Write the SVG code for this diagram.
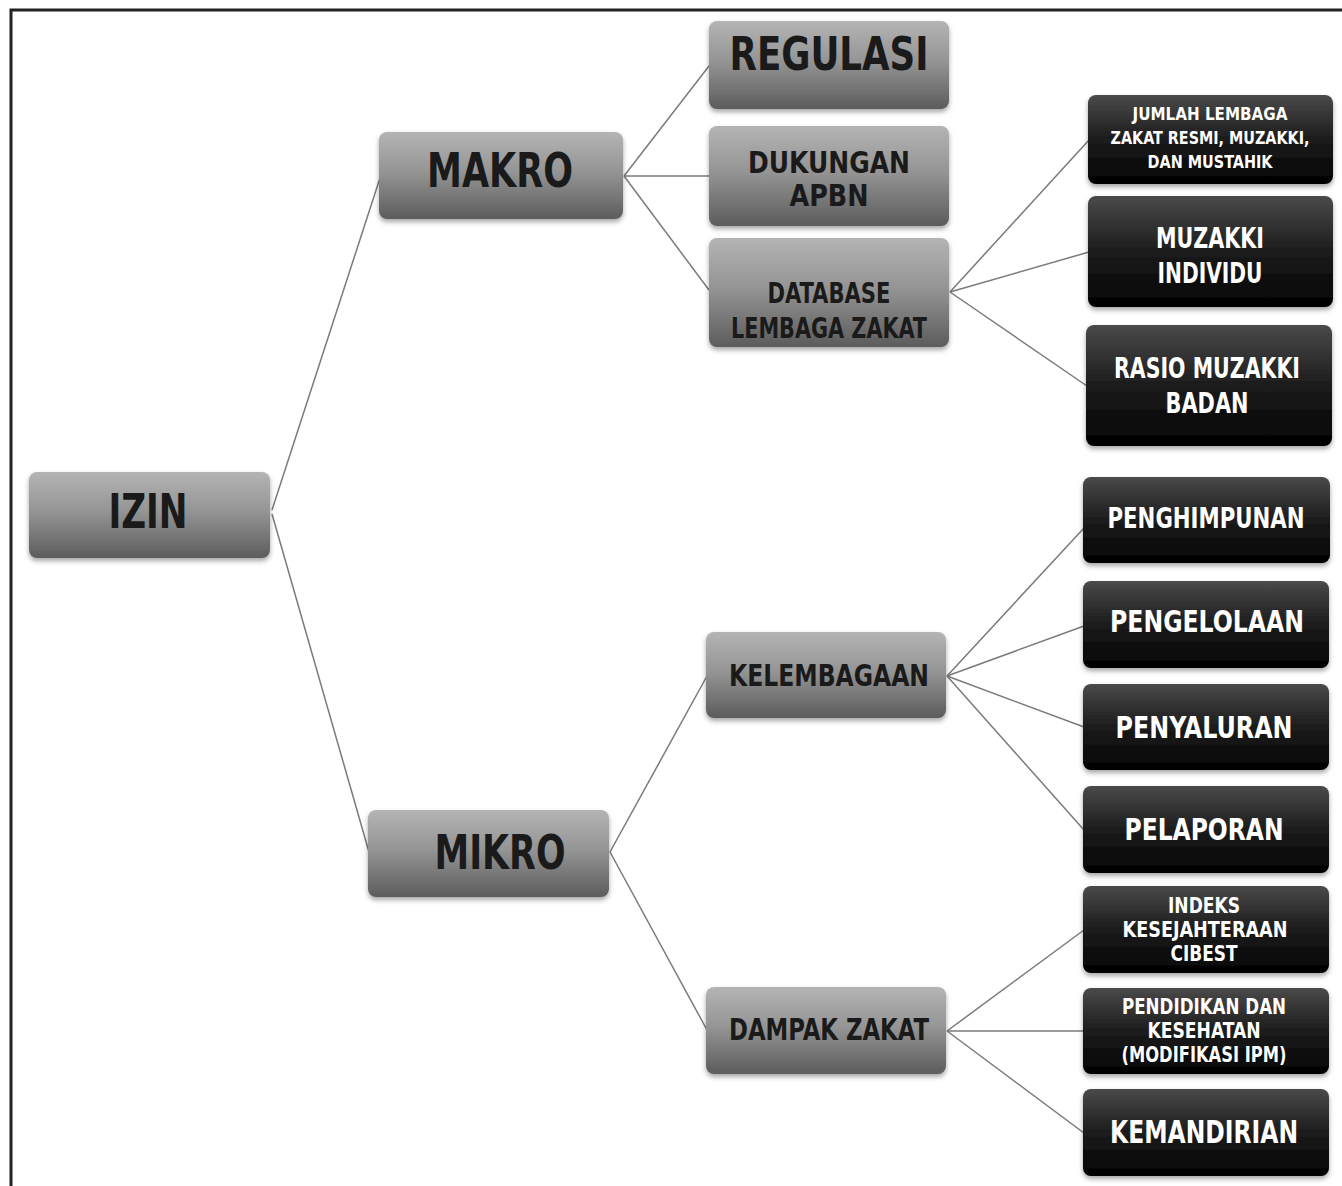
<svg xmlns="http://www.w3.org/2000/svg" width="1342" height="1186" viewBox="0 0 1342 1186">
<defs>
<linearGradient id="gGray" x1="0" y1="0" x2="0" y2="1">
<stop offset="0" stop-color="#b4b4b4"/>
<stop offset="0.45" stop-color="#959595"/>
<stop offset="1" stop-color="#5c5c5c"/>
</linearGradient>
<linearGradient id="gDark" x1="0" y1="0" x2="0" y2="1">
<stop offset="0" stop-color="#4a4a4a"/>
<stop offset="0.5" stop-color="#1c1c1c"/>
<stop offset="1" stop-color="#020202"/>
</linearGradient>
<filter id="sh" x="-10%" y="-10%" width="120%" height="130%">
<feDropShadow dx="0" dy="3" stdDeviation="2.5" flood-color="#000" flood-opacity="0.35"/>
</filter>
</defs>
<style>
.g{fill:url(#gGray);filter:url(#sh)}
.d{fill:url(#gDark);filter:url(#sh)}
text{font-family:"DejaVu Sans","Liberation Sans",sans-serif;font-stretch:condensed;font-weight:bold;text-anchor:middle}
.tg{fill:#1a1a1a}
.tw{fill:#ffffff}
.c line{stroke:#7a7a7a;stroke-width:1.5;fill:none}
</style>
<rect x="0" y="0" width="1342" height="1186" fill="#ffffff"/>
<rect x="11" y="10" width="1340" height="1185" fill="none" stroke="#222" stroke-width="3"/>
<g class="c" id="connectors">
<line x1="272" y1="510" x2="380" y2="178"/>
<line x1="272" y1="514" x2="369" y2="852"/>
<line x1="624" y1="176" x2="709" y2="66"/>
<line x1="624" y1="176" x2="709" y2="176"/>
<line x1="624" y1="176" x2="709" y2="290"/>
<line x1="950" y1="292" x2="1089" y2="140"/>
<line x1="950" y1="292" x2="1089" y2="252"/>
<line x1="950" y1="292" x2="1087" y2="386"/>
<line x1="610" y1="852" x2="707" y2="676"/>
<line x1="610" y1="852" x2="707" y2="1030"/>
<line x1="947" y1="676" x2="1084" y2="528"/>
<line x1="947" y1="676" x2="1084" y2="626"/>
<line x1="947" y1="676" x2="1084" y2="727"/>
<line x1="947" y1="676" x2="1084" y2="830"/>
<line x1="947" y1="1031" x2="1084" y2="930"/>
<line x1="947" y1="1031" x2="1084" y2="1031"/>
<line x1="947" y1="1031" x2="1084" y2="1133"/>
</g>
<g id="izin"><rect class="g" x="29" y="472" width="241" height="86" rx="8"/><text class="tg" x="148" y="528" font-size="48" textLength="79" lengthAdjust="spacingAndGlyphs">IZIN</text></g>
<g id="makro"><rect class="g" x="379" y="132" width="244" height="87" rx="8"/><text class="tg" x="500" y="187" font-size="48" textLength="146" lengthAdjust="spacingAndGlyphs">MAKRO</text></g>
<g id="regulasi"><rect class="g" x="709" y="21" width="240" height="88" rx="8"/><text class="tg" x="829" y="70" font-size="46" textLength="199" lengthAdjust="spacingAndGlyphs">REGULASI</text></g>
<g id="dukungan"><rect class="g" x="709" y="126" width="240" height="100" rx="8"/><text class="tg" x="829" y="173" font-size="30" textLength="162" lengthAdjust="spacingAndGlyphs">DUKUNGAN</text><text class="tg" x="829" y="206" font-size="30" textLength="79" lengthAdjust="spacingAndGlyphs">APBN</text></g>
<g id="database"><rect class="g" x="709" y="238" width="240" height="109" rx="8"/><text class="tg" x="829" y="303" font-size="28" textLength="123" lengthAdjust="spacingAndGlyphs">DATABASE</text><text class="tg" x="829" y="338" font-size="28" textLength="196" lengthAdjust="spacingAndGlyphs">LEMBAGA ZAKAT</text></g>
<g id="jumlah"><rect class="d" x="1088" y="95" width="245" height="89" rx="8"/><text class="tw" x="1210" y="120" font-size="18" textLength="155" lengthAdjust="spacingAndGlyphs">JUMLAH LEMBAGA</text><text class="tw" x="1210" y="144" font-size="18" textLength="199" lengthAdjust="spacingAndGlyphs">ZAKAT RESMI, MUZAKKI,</text><text class="tw" x="1210" y="168" font-size="18" textLength="125" lengthAdjust="spacingAndGlyphs">DAN MUSTAHIK</text></g>
<g id="muzakki"><rect class="d" x="1088" y="196" width="245" height="111" rx="8"/><text class="tw" x="1210" y="248" font-size="28" textLength="108" lengthAdjust="spacingAndGlyphs">MUZAKKI</text><text class="tw" x="1210" y="283" font-size="28" textLength="105" lengthAdjust="spacingAndGlyphs">INDIVIDU</text></g>
<g id="rasio"><rect class="d" x="1086" y="325" width="246" height="121" rx="8"/><text class="tw" x="1207" y="378" font-size="28" textLength="186" lengthAdjust="spacingAndGlyphs">RASIO MUZAKKI</text><text class="tw" x="1207" y="413" font-size="28" textLength="83" lengthAdjust="spacingAndGlyphs">BADAN</text></g>
<g id="mikro"><rect class="g" x="368" y="810" width="241" height="87" rx="8"/><text class="tg" x="500" y="869" font-size="48" textLength="131" lengthAdjust="spacingAndGlyphs">MIKRO</text></g>
<g id="kelembagaan"><rect class="g" x="706" y="632" width="240" height="86" rx="8"/><text class="tg" x="829" y="686" font-size="31" textLength="200" lengthAdjust="spacingAndGlyphs">KELEMBAGAAN</text></g>
<g id="dampak"><rect class="g" x="706" y="987" width="240" height="87" rx="8"/><text class="tg" x="829" y="1040" font-size="31" textLength="200" lengthAdjust="spacingAndGlyphs">DAMPAK ZAKAT</text></g>
<g id="penghimpunan"><rect class="d" x="1083" y="477" width="247" height="86" rx="8"/><text class="tw" x="1206" y="528" font-size="28" textLength="197" lengthAdjust="spacingAndGlyphs">PENGHIMPUNAN</text></g>
<g id="pengelolaan"><rect class="d" x="1083" y="581" width="246" height="87" rx="8"/><text class="tw" x="1207" y="632" font-size="31" textLength="194" lengthAdjust="spacingAndGlyphs">PENGELOLAAN</text></g>
<g id="penyaluran"><rect class="d" x="1083" y="684" width="246" height="86" rx="8"/><text class="tw" x="1204" y="738" font-size="31" textLength="177" lengthAdjust="spacingAndGlyphs">PENYALURAN</text></g>
<g id="pelaporan"><rect class="d" x="1083" y="786" width="246" height="87" rx="8"/><text class="tw" x="1204" y="840" font-size="31" textLength="159" lengthAdjust="spacingAndGlyphs">PELAPORAN</text></g>
<g id="indeks"><rect class="d" x="1083" y="886" width="246" height="87" rx="8"/><text class="tw" x="1204" y="913" font-size="21" textLength="72" lengthAdjust="spacingAndGlyphs">INDEKS</text><text class="tw" x="1205" y="937" font-size="21" textLength="165" lengthAdjust="spacingAndGlyphs">KESEJAHTERAAN</text><text class="tw" x="1204" y="961" font-size="21" textLength="67" lengthAdjust="spacingAndGlyphs">CIBEST</text></g>
<g id="pendidikan"><rect class="d" x="1083" y="988" width="246" height="86" rx="8"/><text class="tw" x="1204" y="1014" font-size="21" textLength="164" lengthAdjust="spacingAndGlyphs">PENDIDIKAN DAN</text><text class="tw" x="1204" y="1038" font-size="21" textLength="113" lengthAdjust="spacingAndGlyphs">KESEHATAN</text><text class="tw" x="1204" y="1062" font-size="21" textLength="165" lengthAdjust="spacingAndGlyphs">(MODIFIKASI IPM)</text></g>
<g id="kemandirian"><rect class="d" x="1083" y="1089" width="246" height="87" rx="8"/><text class="tw" x="1204" y="1143" font-size="32" textLength="188" lengthAdjust="spacingAndGlyphs">KEMANDIRIAN</text></g>
</svg>
